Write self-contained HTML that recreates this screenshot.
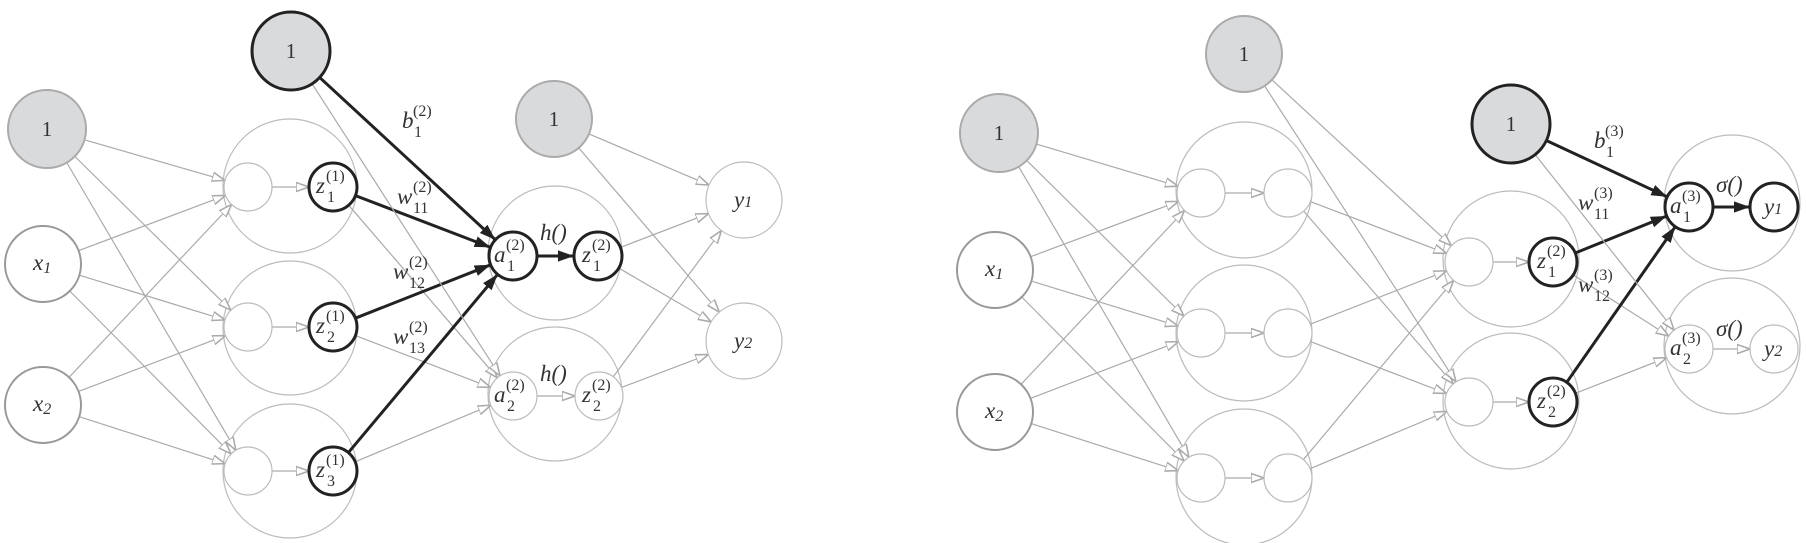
<!DOCTYPE html>
<html><head><meta charset="utf-8"><style>
html,body{margin:0;padding:0;background:#fff;}
svg{display:block;}
text{font-family:"Liberation Serif",serif;fill:#333;}
.m{font-style:italic;font-size:23px;}
.s{font-size:16px;}
.one{font-size:21px;}
</style></head><body>
<svg id="g" width="1806" height="543" viewBox="0 0 1806 543" xmlns="http://www.w3.org/2000/svg">
<defs>
<marker id="ag" viewBox="0 0 10 10" refX="10" refY="5" markerWidth="13" markerHeight="13" markerUnits="userSpaceOnUse" orient="auto"><path d="M0,1.5 L10,5 L0,8.5 Z" fill="#fff" stroke="#aaa" stroke-width="1.2"/></marker>
<marker id="ab" viewBox="0 0 10 10" refX="10" refY="5" markerWidth="16" markerHeight="16" markerUnits="userSpaceOnUse" orient="auto"><path d="M0,1.5 L10,5 L0,8.5 Z" fill="#222"/></marker>
</defs>
<g fill="none" stroke="#bbb" stroke-width="1.2">
<circle cx="290" cy="186" r="67"/><circle cx="290" cy="328" r="67"/><circle cx="290" cy="471" r="67"/>
<circle cx="555" cy="253" r="67"/><circle cx="555" cy="394" r="67"/>
<circle cx="1244" cy="190" r="68"/><circle cx="1244" cy="333" r="68"/><circle cx="1244" cy="477" r="68"/>
<circle cx="1511" cy="259" r="68"/><circle cx="1511" cy="401" r="68"/>
<circle cx="1732" cy="203" r="68"/><circle cx="1732" cy="346" r="68"/>
</g>
<g id="edges"></g>
<g fill="#fff" stroke="#bbb" stroke-width="1.2">
<circle cx="248" cy="187" r="24"/><circle cx="248" cy="327" r="24"/><circle cx="248" cy="471" r="24"/>
<circle cx="513" cy="396" r="24"/><circle cx="599" cy="396" r="24"/>
<circle cx="744" cy="200" r="38"/><circle cx="744" cy="341" r="38"/>
<circle cx="1201" cy="193" r="24"/><circle cx="1288" cy="193" r="24"/>
<circle cx="1201" cy="333" r="24"/><circle cx="1288" cy="333" r="24"/>
<circle cx="1201" cy="478" r="24"/><circle cx="1288" cy="478" r="24"/>
<circle cx="1469" cy="262" r="24"/><circle cx="1469" cy="402" r="24"/>
<circle cx="1689" cy="349" r="24"/><circle cx="1774" cy="349" r="24"/>
</g>
<g fill="#fff" stroke="#999" stroke-width="2">
<circle cx="43" cy="264" r="38"/><circle cx="43" cy="405" r="38"/>
<circle cx="995" cy="270" r="38"/><circle cx="995" cy="412" r="38"/>
</g>
<g fill="#d9dadc" stroke="#aaa" stroke-width="2">
<circle cx="47" cy="129" r="39"/><circle cx="554" cy="119" r="38"/>
<circle cx="999" cy="133" r="39"/><circle cx="1244" cy="54" r="38"/>
</g>
<g fill="#d9dadc" stroke="#222" stroke-width="3">
<circle cx="291" cy="51" r="39"/><circle cx="1511" cy="124" r="39"/>
</g>
<g fill="#fff" stroke="#222" stroke-width="3">
<circle cx="333" cy="187" r="24"/><circle cx="333" cy="327" r="24"/><circle cx="333" cy="471" r="24"/>
<circle cx="513" cy="256" r="24"/><circle cx="598" cy="256" r="24"/>
<circle cx="1553" cy="262" r="24"/><circle cx="1553" cy="402" r="24"/>
<circle cx="1689" cy="207" r="24"/><circle cx="1774" cy="207" r="24"/>
</g>
<g class="one" text-anchor="middle">
<text x="291" y="58">1</text><text x="47" y="136">1</text><text x="554" y="126">1</text>
<text x="1244" y="61">1</text><text x="999" y="140">1</text><text x="1511" y="131">1</text>
</g>
<text class="m" x="33" y="270">x<tspan class="s" dy="3">1</tspan></text>
<text class="m" x="33" y="411">x<tspan class="s" dy="3">2</tspan></text>
<text class="m" x="985" y="276">x<tspan class="s" dy="3">1</tspan></text>
<text class="m" x="985" y="418">x<tspan class="s" dy="3">2</tspan></text>
<text class="m" x="734" y="207">y<tspan class="s">1</tspan></text>
<text class="m" x="734" y="348">y<tspan class="s">2</tspan></text>
<text class="m" x="1764" y="214">y<tspan class="s">1</tspan></text>
<text class="m" x="1764" y="356">y<tspan class="s">2</tspan></text>
<g>
<text class="m" x="316" y="193">z</text><text class="s" x="326" y="181">(1)</text><text class="s" x="327" y="202">1</text>
<text class="m" x="316" y="333">z</text><text class="s" x="326" y="321">(1)</text><text class="s" x="327" y="342">2</text>
<text class="m" x="316" y="477">z</text><text class="s" x="326" y="465">(1)</text><text class="s" x="327" y="486">3</text>
<text class="m" x="494" y="262">a</text><text class="s" x="506" y="250">(2)</text><text class="s" x="507" y="271">1</text>
<text class="m" x="582" y="262">z</text><text class="s" x="592" y="250">(2)</text><text class="s" x="593" y="271">1</text>
<text class="m" x="494" y="402">a</text><text class="s" x="506" y="390">(2)</text><text class="s" x="507" y="411">2</text>
<text class="m" x="582" y="402">z</text><text class="s" x="592" y="390">(2)</text><text class="s" x="593" y="411">2</text>
<text class="m" x="1537" y="268">z</text><text class="s" x="1547" y="256">(2)</text><text class="s" x="1548" y="277">1</text>
<text class="m" x="1537" y="408">z</text><text class="s" x="1547" y="396">(2)</text><text class="s" x="1548" y="417">2</text>
<text class="m" x="1670" y="213">a</text><text class="s" x="1682" y="201">(3)</text><text class="s" x="1683" y="222">1</text>
<text class="m" x="1670" y="355">a</text><text class="s" x="1682" y="343">(3)</text><text class="s" x="1683" y="364">2</text>
</g>
<g>
<text class="m" x="402" y="128">b</text><text class="s" x="413" y="116">(2)</text><text class="s" x="414" y="137">1</text>
<text class="m" x="397" y="204">w</text><text class="s" x="413" y="192">(2)</text><text class="s" x="413" y="213">11</text>
<text class="m" x="393" y="279">w</text><text class="s" x="409" y="267">(2)</text><text class="s" x="409" y="288">12</text>
<text class="m" x="393" y="344">w</text><text class="s" x="409" y="332">(2)</text><text class="s" x="409" y="353">13</text>
<text class="m" x="540" y="240">h()</text>
<text class="m" x="540" y="381">h()</text>
<text class="m" x="1594" y="148">b</text><text class="s" x="1605" y="136">(3)</text><text class="s" x="1606" y="157">1</text>
<text class="m" x="1578" y="210">w</text><text class="s" x="1594" y="198">(3)</text><text class="s" x="1594" y="219">11</text>
<text class="m" x="1578" y="292">w</text><text class="s" x="1594" y="280">(3)</text><text class="s" x="1594" y="301">12</text>
<text class="m" x="1716" y="192">σ()</text>
<text class="m" x="1716" y="336">σ()</text>
</g>
</svg>
<script>
var E=document.getElementById('edges'),NS="http://www.w3.org/2000/svg";
function a(x1,y1,r1,x2,y2,r2,t){var dx=x2-x1,dy=y2-y1,d=Math.hypot(dx,dy),ux=dx/d,uy=dy/d;
var l=document.createElementNS(NS,'line');l.setAttribute('x1',x1+ux*r1);l.setAttribute('y1',y1+uy*r1);
l.setAttribute('x2',x2-ux*r2);l.setAttribute('y2',y2-uy*r2);
l.setAttribute('stroke',t?'#222':'#aaa');l.setAttribute('stroke-width',t?3:1.2);
l.setAttribute('marker-end',t?'url(#ab)':'url(#ag)');E.appendChild(l);}
var srcL=[[47,129,39],[43,264,38],[43,405,38]],h1=[187,327,471];
srcL.forEach(function(s){h1.forEach(function(y){a(s[0],s[1],s[2],248,y,24,0);});});
h1.forEach(function(y){a(248,y,24,333,y,24,0);a(333,y,24,513,396,24,0);a(333,y,24,513,256,24,1);});
a(291,51,39,513,396,24,0);a(291,51,39,513,256,24,1);
a(513,256,24,598,256,24,1);a(513,396,24,599,396,24,0);
[[598,256,24],[599,396,24],[554,119,38]].forEach(function(s){a(s[0],s[1],s[2],744,200,38,0);a(s[0],s[1],s[2],744,341,38,0);});
var srcR=[[999,133,39],[995,270,38],[995,412,38]],h2=[193,333,478];
srcR.forEach(function(s){h2.forEach(function(y){a(s[0],s[1],s[2],1201,y,24,0);});});
h2.forEach(function(y){a(1201,y,24,1288,y,24,0);a(1288,y,24,1469,262,24,0);a(1288,y,24,1469,402,24,0);});
a(1244,54,38,1469,262,24,0);a(1244,54,38,1469,402,24,0);
a(1469,262,24,1553,262,24,0);a(1469,402,24,1553,402,24,0);
[[1553,262,24],[1553,402,24],[1511,124,39]].forEach(function(s){a(s[0],s[1],s[2],1689,207,24,1);a(s[0],s[1],s[2],1689,349,24,0);});
a(1689,207,24,1774,207,24,1);a(1689,349,24,1774,349,24,0);
</script>
</body></html>
